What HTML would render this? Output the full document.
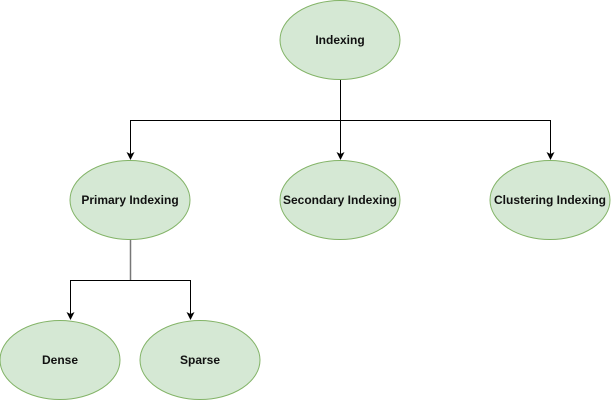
<!DOCTYPE html>
<html><head><style>body{margin:0;background:#fff}svg{display:block}</style></head><body>
<svg width="611" height="401" xmlns="http://www.w3.org/2000/svg" font-family="Liberation Sans, sans-serif" font-size="12" font-weight="bold">
<defs><marker id="a" markerWidth="8" markerHeight="8" refX="7" refY="4" orient="auto" markerUnits="userSpaceOnUse"><path d="M0,0 L8,4 L0,8 L2,4 z" fill="#000"/></marker></defs>
<g stroke="#000" fill="none" stroke-width="1">
<path d="M340.5,80 V120.5 H130.5 V159" marker-end="url(#a)"/>
<path d="M340.5,120.5 V159" marker-end="url(#a)"/>
<path d="M340.5,120.5 H550.5 V159" marker-end="url(#a)"/>
<path d="M130.5,240 V280.5" stroke="#777" stroke-width="1.5"/>
<path d="M130.5,280.5 H70.5 V319" marker-end="url(#a)"/>
<path d="M130.5,280.5 H190.5 V319" marker-end="url(#a)"/>
</g>
<g fill="#d5e8d4" stroke="#82b366">
<ellipse cx="340" cy="40" rx="60" ry="39.5"/>
<ellipse cx="130" cy="200" rx="60" ry="39.5"/>
<ellipse cx="340" cy="200" rx="60" ry="39.5"/>
<ellipse cx="550" cy="200" rx="60" ry="39.5"/>
<ellipse cx="60" cy="360" rx="60" ry="39.5"/>
<ellipse cx="200" cy="360" rx="60" ry="39.5"/>
</g>
<g fill="#111" text-anchor="middle">
<text x="340" y="44">Indexing</text>
<text x="130" y="204">Primary Indexing</text>
<text x="340" y="204">Secondary Indexing</text>
<text x="550" y="204">Clustering Indexing</text>
<text x="60" y="364">Dense</text>
<text x="200" y="364">Sparse</text>
</g>
</svg>
</body></html>
